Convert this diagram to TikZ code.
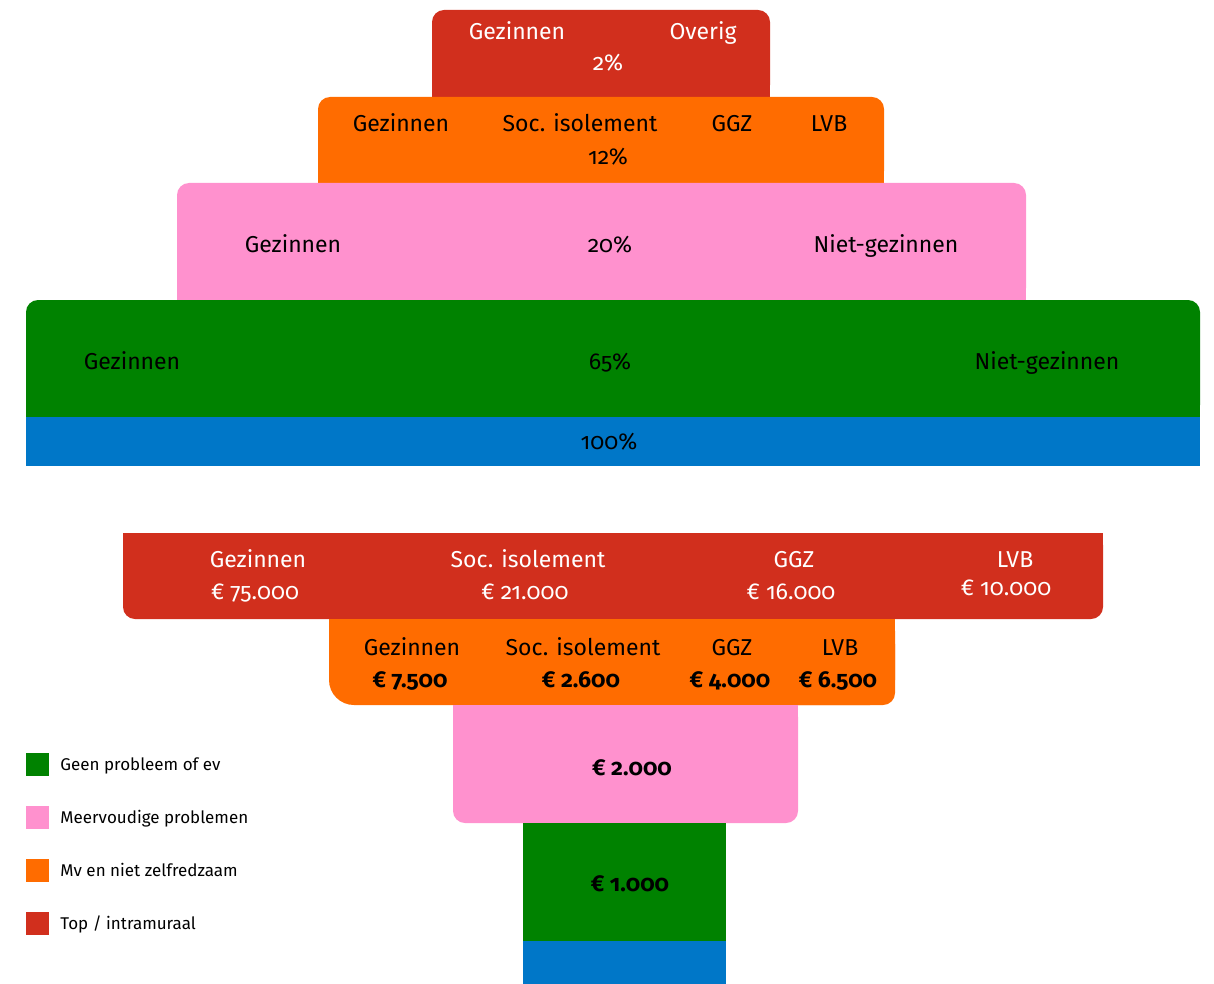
\documentclass[tikz,border=0pt]{standalone}
\usepackage{fontspec}
\setmainfont{Fira Sans}[Numbers=OldStyle]
\usetikzlibrary{positioning}

\definecolor{topred}{RGB}{209,47,29}
\definecolor{mvorange}{RGB}{255,108,0}
\definecolor{mvpink}{RGB}{255,145,206}
\definecolor{nogreen}{RGB}{0,130,0}
\definecolor{baseblue}{RGB}{0,119,200}

\begin{document}
\begin{tikzpicture}[
    x=1pt, y=-1pt,
    lbl/.style={font=\fontsize{23}{26}\selectfont, inner sep=0pt, text height=16pt, text depth=0pt},
    val/.style={lbl, font=\fontsize{23}{26}\selectfont\bfseries},
    key/.style={font=\fontsize{17}{19}\selectfont, anchor=west, inner sep=0pt, text height=12pt, text depth=0pt},
    swatch/.style={minimum size=23pt, inner sep=0pt}
]
\useasboundingbox (0,0) rectangle (1214,984);

% Top pyramid (share)
\foreach \xa/\xb/\ya/\yb/\c in {432/770/10/97/topred, 318/884/97/183/mvorange, 177/1026/183/300/mvpink, 26/1200/300/417/nogreen} {
    \fill[\c, rounded corners=12pt] (\xa,\ya) rectangle (\xb,\yb);
    \fill[\c] (\xa,\ya+20) rectangle (\xb,\yb);
}
\fill[baseblue] (26,417) rectangle (1200,466);

\node[lbl, white] (tGez) at (517,32) {Gezinnen};
\node[lbl, white] (tOve) at (703,32) {Overig};
\node[lbl, white] (tPct) at (608,63) {2\%};

\foreach \n/\x/\t in {Gez/401/Gezinnen, Soc/580/Soc. isolement, Ggz/732/GGZ, Lvb/829/LVB} {
    \node[lbl] (o\n) at (\x,124) {\t};
}
\node[lbl] (oPct) at (608,157) {12\%};

\node[lbl] (pGez) at (293,244) {Gezinnen};
\node[lbl] (pPct) at (610,244) {20\%};
\node[lbl] (pNie) at (886,244) {Niet-gezinnen};

\node[lbl] (gGez) at (132,361) {Gezinnen};
\node[lbl] (gPct) at (610,361) {65\%};
\node[lbl] (gNie) at (1047,361) {Niet-gezinnen};

\node[lbl] (bPct) at (609,441) {100\%};

% Bottom pyramid (costs)
\fill[topred, rounded corners=12pt] (123,533) rectangle (1103,619);
\fill[topred] (123,533) rectangle (1103,580);
\fill[mvorange, rounded corners=25pt] (329,619) rectangle (895,705);
\fill[mvorange, rounded corners=12pt] (600,619) rectangle (895,705);
\fill[mvorange] (329,619) rectangle (895,660);
\fill[mvpink, rounded corners=12pt] (453,705) rectangle (798,823);
\fill[mvpink] (453,705) rectangle (798,750);
\fill[nogreen] (523,823) rectangle (726,941);
\fill[baseblue] (523,941) rectangle (726,984);

\foreach \n/\x/\t/\v in {Gez/258/Gezinnen/75.000, Soc/528/Soc. isolement/21.000, Ggz/794/GGZ/16.000} {
    \node[lbl, white] (cr\n) at (\x,559) {\t};
    \node[lbl, white] (vr\n) at (\x-3,591) {€ \v};
}
\node[lbl, white] (crLvb) at (1015,559) {LVB};
\node[lbl, white] (vrLvb) at (1006,587) {€ 10.000};

\foreach \n/\x/\t/\v in {Gez/412/Gezinnen/7.500, Soc/583/Soc. isolement/2.600, Ggz/732/GGZ/4.000, Lvb/840/LVB/6.500} {
    \node[lbl] (co\n) at (\x,647) {\t};
    \node[val] (vo\n) at (\x-2,679) {€ \v};
}

\node[val] (vp) at (632,767) {€ 2.000};
\node[val] (vg) at (630,883) {€ 1.000};

% Legend
\foreach \y/\c/\t/\n in {764/nogreen/Geen probleem of ev/g, 817/mvpink/Meervoudige problemen/p, 870/mvorange/Mv en niet zelfredzaam/o, 923/topred/{Top / intramuraal}/r} {
    \node[swatch, fill=\c] (sw\n) at (37.5,\y) {};
    \node[key, right=11pt of sw\n] (key\n) {\t};
}

\end{tikzpicture}
\end{document}
